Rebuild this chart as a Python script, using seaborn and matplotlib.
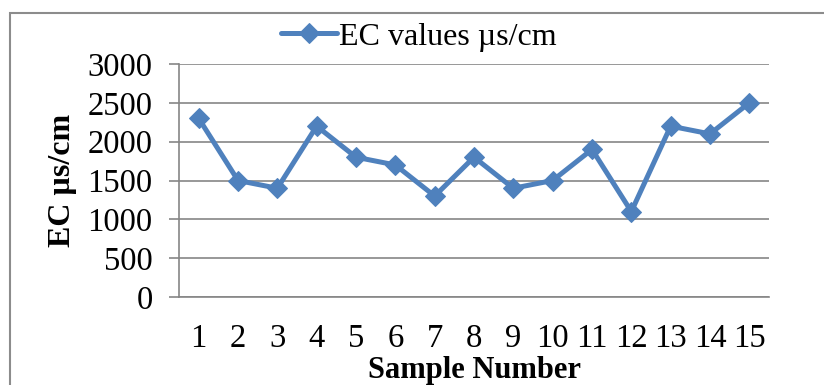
import matplotlib
matplotlib.use("Agg")
import matplotlib.pyplot as plt
import seaborn as sns
import pandas as pd
from matplotlib.patches import Rectangle

samples = list(range(1, 16))
ec_values = [2300, 1500, 1400, 2200, 1800, 1700, 1300, 1800, 1400, 1500, 1900, 1100, 2200, 2100, 2500]
y_ticks = [0, 500, 1000, 1500, 2000, 2500, 3000]
series_name = "EC values \u00b5s/cm"

df = pd.DataFrame({"Sample": samples, "EC": ec_values})

sns.set_theme(style="white")
plt.rcParams['font.family'] = ['Liberation Serif', 'DejaVu Serif']

fig = plt.figure(figsize=(8.24, 3.85), dpi=100)
ax = fig.add_axes([179/824, 1-297/385, 590/824, 233/385])

blue = "#4F81BD"
sns.lineplot(data=df, x="Sample", y="EC", ax=ax, color=blue, linewidth=3.6,
             marker="D", markersize=10, markeredgecolor=blue, label=series_name)

ax.set_xlim(0.5, 15.5)
ax.set_ylim(0, 3000)
ax.set_yticks(y_ticks)
ax.set_xticks(samples)
ax.set_xticklabels([str(s) for s in samples])
ax.grid(axis='y', color='#868686', linewidth=1.2)
ax.set_axisbelow(True)
for s in ['top', 'right']:
    ax.spines[s].set_visible(False)
for s in ['left', 'bottom']:
    ax.spines[s].set_color('#868686')
    ax.spines[s].set_linewidth(1.2)

ax.tick_params(axis='y', which='both', left=True, length=7, width=1.2, color='#868686',
               labelsize=23.5, pad=12, labelcolor='black')
ax.tick_params(axis='x', which='both', bottom=False, labelsize=23.5, pad=13, labelcolor='black')

ax.set_xlabel("Sample Number", fontsize=22, fontweight='bold', color='black')
ax.xaxis.set_label_coords(0.5, -(356-297)/233)
ax.set_ylabel("EC \u00b5s/cm", fontsize=23, fontweight='bold', color='black')
ax.yaxis.set_label_coords((77-179)/590, 0.5)

leg = ax.legend(loc='center', bbox_to_anchor=((419-179)/590, (297-37)/233), frameon=False,
                fontsize=23, handlelength=1.75, handletextpad=0.05, borderaxespad=0,
                borderpad=0)
for t in leg.get_texts():
    t.set_color('black')

rect = Rectangle((10/824, -0.2), 1.2, 1-13/385+0.2, transform=fig.transFigure,
                 fill=False, edgecolor='#8c8c8c', linewidth=1.5, clip_on=False)
fig.patches.append(rect)

fig.savefig("out.png", dpi=100)
